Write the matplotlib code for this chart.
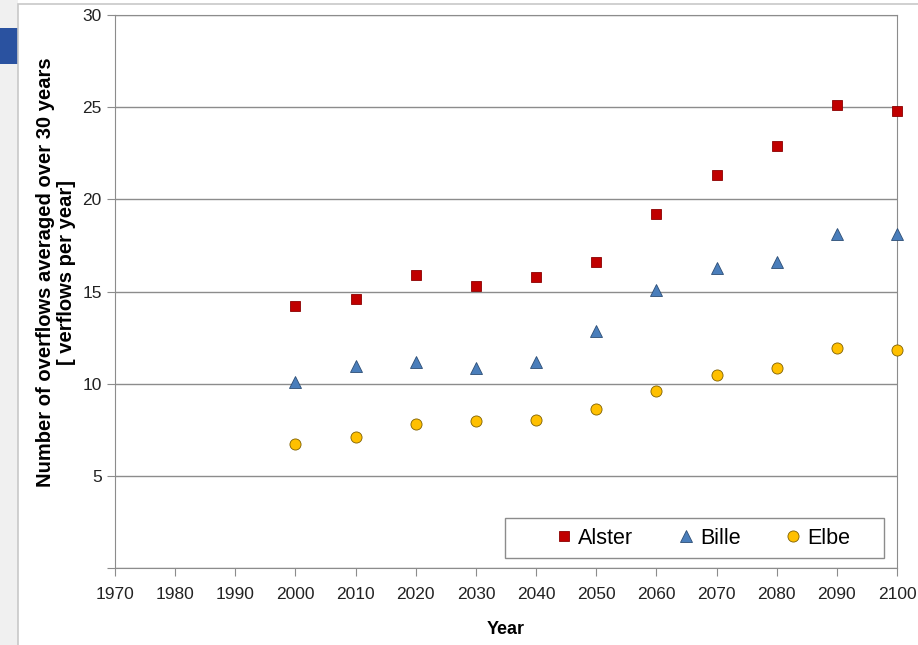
import matplotlib.pyplot as plt
from matplotlib.patches import Rectangle

plt.rcParams['font.family'] = ['Liberation Sans', 'DejaVu Sans']

years = [2000, 2010, 2020, 2030, 2040, 2050, 2060, 2070, 2080, 2090, 2100]
alster = [14.2, 14.6, 15.9, 15.3, 15.8, 16.6, 19.2, 21.3, 22.9, 25.1, 24.8]
bille = [10.1, 10.95, 11.2, 10.85, 11.2, 12.85, 15.1, 16.3, 16.6, 18.1, 18.1]
elbe = [6.7, 7.1, 7.8, 7.95, 8.05, 8.65, 9.6, 10.45, 10.85, 11.95, 11.8]
x_ticks = list(range(1970, 2101, 10))
y_ticks = [5, 10, 15, 20, 25, 30]

fig = plt.figure(figsize=(9.18, 6.45), dpi=100)

# screenshot surroundings: grey strip on the left, blue tab, outer frame
fig.patches.append(Rectangle((0, 0), 18 / 918, 1, transform=fig.transFigure,
                             facecolor='#f0f0f0', edgecolor='none', zorder=0))
fig.patches.append(Rectangle((0, 1 - 64 / 645), 18 / 918, 36 / 645,
                             transform=fig.transFigure, facecolor='#2a52a0',
                             edgecolor='none', zorder=1))
fig.patches.append(Rectangle((18 / 918, -0.1), 1.0, 1 - 4 / 645 + 0.1,
                             transform=fig.transFigure, facecolor='none',
                             edgecolor='#c8c8c8', lw=1.2, zorder=1))

ax = fig.add_axes([115 / 918, 77 / 645, 782 / 918, 553 / 645])

ax.plot(years, alster, 's', color='#c00000', mec='#8b0000', mew=0.6, ms=7.5,
        label='Alster', clip_on=False, zorder=3)
ax.plot(years, bille, '^', color='#4a7ebb', mec='#2c4d75', mew=0.6, ms=8,
        label='Bille', clip_on=False, zorder=3)
ax.plot(years, elbe, 'o', color='#ffc000', mec='#7f6000', mew=0.6, ms=8,
        label='Elbe', clip_on=False, zorder=3)

ax.set_xlim(1970, 2100)
ax.set_ylim(0, 30)
ax.set_xticks(x_ticks)
ax.set_yticks([0] + y_ticks)
ax.set_yticklabels([''] + [str(v) for v in y_ticks])
ax.yaxis.grid(True, color='#8c8c8c', lw=1.0)
ax.set_axisbelow(True)
for s in ax.spines.values():
    s.set_color('#8c8c8c')
ax.tick_params(colors='#8c8c8c', labelcolor='#222222', labelsize=12.5,
               length=6, direction='out')
ax.tick_params(axis='x', pad=8)

ax.set_xlabel('Year', fontsize=13, fontweight='bold', labelpad=13)
ax.set_ylabel('Number of overflows averaged over 30 years\n[ verflows per year]',
              fontsize=14.5, fontweight='bold', linespacing=1.1)
ax.yaxis.set_label_coords(-0.05, 0.535)

# legend box drawn separately to get the wide Excel-style padding
ax.add_patch(Rectangle((0.4987, 0.018), 0.4847, 0.0723, transform=ax.transAxes,
                       facecolor='white', edgecolor='#8c8c8c', lw=1.0,
                       zorder=4, clip_on=False))
leg = ax.legend(loc='center', ncol=3, fontsize=15.5, frameon=False,
                handletextpad=0.05, columnspacing=1.85, handlelength=1.2,
                bbox_to_anchor=(0.749, 0.054))
leg.set_zorder(5)

fig.savefig('out.png', dpi=100)
